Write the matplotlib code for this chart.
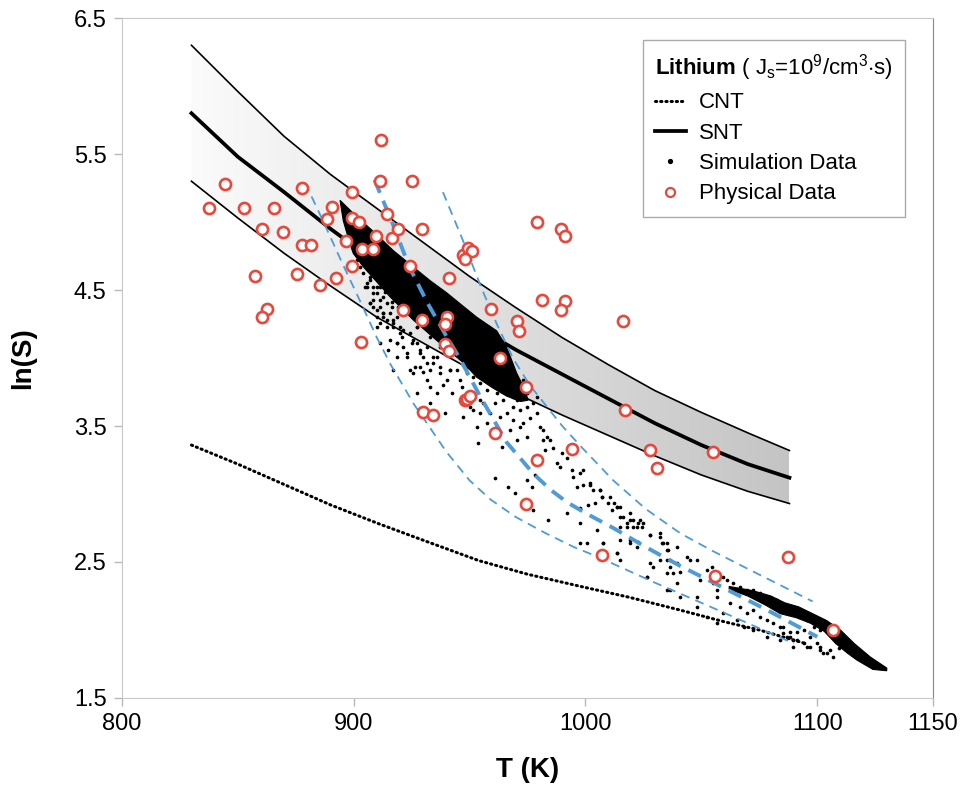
import numpy as np
import matplotlib
matplotlib.use("Agg")
from matplotlib import pyplot as plt
from matplotlib.lines import Line2D

plt.rcParams['font.family'] = ['Liberation Sans', 'DejaVu Sans']
plt.rcParams['mathtext.fontset'] = 'custom'
plt.rcParams['mathtext.rm'] = 'Liberation Sans'
plt.rcParams['mathtext.bf'] = 'Liberation Sans:bold'
plt.rcParams['mathtext.it'] = 'Liberation Sans:italic'

# SNT band (upper / centre / lower)
band_T = [830, 850, 870, 890, 910, 930, 950, 970, 990, 1010, 1030, 1050, 1070, 1088]
band_upper = [6.30, 5.96, 5.63, 5.35, 5.10, 4.85, 4.60, 4.37, 4.15, 3.95, 3.76, 3.60, 3.45, 3.32]
snt = [5.80, 5.48, 5.22, 4.95, 4.70, 4.47, 4.26, 4.06, 3.88, 3.70, 3.52, 3.36, 3.22, 3.12]
band_lower = [5.30, 5.03, 4.77, 4.53, 4.30, 4.11, 3.92, 3.74, 3.58, 3.43, 3.28, 3.14, 3.02, 2.93]

# CNT
cnt_T = [830, 850, 870, 890, 911, 930, 954, 975, 998, 1019, 1040, 1060, 1075, 1095]
cnt = [3.36, 3.22, 3.07, 2.92, 2.78, 2.66, 2.51, 2.41, 2.32, 2.24, 2.15, 2.06, 2.00, 1.90]

# blue dashed fits
fit_T = [909, 917, 924, 932, 940, 946, 954.5, 966, 977.5, 985, 992, 1000, 1012, 1026, 1041, 1055, 1078, 1100]
fit = [5.31, 4.98, 4.67, 4.40, 4.16, 3.99, 3.72, 3.38, 3.15, 3.03, 2.94, 2.86, 2.75, 2.61, 2.47, 2.35, 2.15, 1.95]
hi_T = [938.5, 947, 955, 962, 969, 976, 983, 990, 998, 1012, 1026, 1041, 1055, 1070, 1098]
hi = [5.22, 4.87, 4.52, 4.24, 3.99, 3.80, 3.65, 3.50, 3.35, 3.10, 2.89, 2.71, 2.58, 2.45, 2.21]
lo_T = [879, 887, 895, 903, 910, 916, 926, 940, 950, 959, 970, 983, 995, 1005, 1018, 1031, 1050, 1070, 1090]
lo = [5.29, 5.00, 4.70, 4.41, 4.15, 3.95, 3.66, 3.31, 3.10, 2.96, 2.83, 2.71, 2.61, 2.54, 2.44, 2.34, 2.20, 2.05, 1.90]

# simulation data: dense cores (outlines) + scattered points
core_T = [894.1, 901.3, 908.5, 917.1, 925.7, 932.9, 940.1, 947.3, 953.1, 961.7, 966.0, 970.3, 973.2, 975.3,
          972.0, 966.0, 960.0, 953.0, 947.0, 940.0, 935.8, 925.7, 915.7, 904.2, 899.8, 898.4, 895.5]
core_lnS = [5.16, 5.04, 4.93, 4.79, 4.67, 4.57, 4.48, 4.38, 4.30, 4.20, 4.08, 3.89, 3.79, 3.69,
            3.68, 3.72, 3.78, 3.86, 3.97, 4.07, 4.13, 4.28, 4.45, 4.67, 4.77, 4.84, 5.01]
tail_T = [1062, 1072, 1080, 1086, 1092, 1098, 1104, 1110, 1116, 1123, 1130,
          1130, 1124, 1117, 1113, 1108, 1103, 1097, 1091, 1084, 1078, 1070, 1062]
tail_lnS = [2.32, 2.29, 2.25, 2.20, 2.17, 2.12, 2.07, 2.00, 1.90, 1.80, 1.72,
            1.70, 1.71, 1.78, 1.83, 1.90, 1.99, 2.05, 2.09, 2.12, 2.18, 2.25, 2.30]

sim_T = [925.7, 930.1, 937.2, 941.6, 927.2, 932.9, 938.7, 942.3, 945.9, 946.6, 939.4, 932.9, 953.1, 953.8,
         957.4, 961.0, 958.8, 960.3, 963.9, 961.0, 966.7, 969.6, 974.6, 976.8, 978.2, 977.5, 984.0, 968.9,
         971.8, 973.2, 970.3, 974.6, 976.1, 979.0, 980.4, 981.8, 983.3, 984.7, 982.6, 986.2, 981.8, 989.8,
         991.9, 987.6, 989.0, 994.1, 994.8, 996.2, 997.7, 999.1, 1002.0, 1003.4, 1006.3, 1007.0, 997.7,
         991.9, 1001.3, 1012.1, 1013.5, 1014.9, 1010.6, 1016.4, 1017.8, 1019.3, 1020.7, 1022.1, 1023.6,
         1025.0, 1014.9, 1019.3, 1022.1, 1027.9, 1032.2, 1033.6, 1035.1, 1036.5, 1039.4, 1013.5, 997.7,
         1007.7, 1035.1, 1029.3, 1026.4, 1039.4, 1036.5, 997.7, 1004.9, 1014.9,
         951.6, 954.5, 957.4, 961.7, 964.6, 955.9, 951.6, 948.8, 958.8, 963.1, 967.5, 970.3, 971.8, 974.6,
         977.5, 979.0, 974.6, 968.9, 966.0, 963.1, 967.5, 961.7, 968.9, 973.2, 954.5, 950.2,
         999.1, 1002.0, 1006.3, 1007.0, 1004.1, 1009.9, 1011.3, 1013.5, 1014.9, 1017.8, 1019.3, 1020.7,
         1022.8, 1024.3, 1019.3, 1022.8, 1027.9, 1032.2, 1032.9, 1035.1, 1035.8, 1027.9, 1032.2, 1035.1,
         1036.5, 1037.9, 1040.8, 1043.7, 1045.1, 1048.0, 1049.5, 1052.3, 1054.5, 1056.7, 1055.2, 1056.7,
         1059.5, 1061.0, 1063.8, 1065.3, 1066.7, 1069.6, 1072.5, 1075.4, 1078.2, 1082.6, 1084.0, 1086.9,
         1089.7, 1092.6, 1095.5, 1098.4, 1101.3, 1062.4, 1066.7, 1069.6, 1072.5, 1075.4, 1078.2, 1081.1,
         1084.0, 1085.4, 1088.3, 1091.2, 1094.1, 1097.0, 1101.3, 1104.1, 1040.8, 1048.0, 1056.7, 1059.5,
         1065.3, 1068.2, 1072.5, 1078.2, 1084.0, 1089.7, 1095.5, 1026.4, 1035.1, 1039.4, 1013.5, 1014.9,
         1000.5, 1007.7, 1048.0, 1052.3, 1056.7,
         1085.4, 1088.3, 1091.2, 1086.9, 1089.7, 1094.1, 1096.9, 1099.8, 1101.3, 1102.7, 1105.6, 1107.0, 1109.2,
         901.3, 902.7, 904.2, 906.3, 905.6, 907.0, 908.5, 911.4, 909.9, 912.8, 914.2, 911.4, 915.7, 917.1,
         918.5, 920.0, 908.5, 912.8, 917.8, 916.4, 905.6, 904.2,
         905.6, 908.5, 911.4, 907.0, 909.9, 912.8, 914.2, 917.1, 911.4, 915.7, 918.5, 921.4, 924.3, 925.7,
         928.6, 931.5, 934.4, 922.9, 920.0, 927.2,
         917.1, 924.3, 918.5, 922.9, 927.2, 930.0, 932.9, 935.8, 911.3, 908.5, 909.9, 914.2, 921.4, 927.2,
         932.9, 937.2,
         907.0, 909.9, 913.5, 916.4, 919.3, 923.6, 926.5, 930.0, 932.9, 935.8, 939.4, 943.0, 945.9, 948.8,
         951.6, 954.5, 912.8, 917.1, 920.7, 925.0, 928.6, 931.5, 937.2, 941.6, 918.5, 914.9, 926.5, 909.9,
         907.0, 904.9,
         928.6, 934.4, 940.1, 944.4, 935.8, 931.5, 948.8, 951.6, 947.3, 954.5]
sim_lnS = [3.887, 3.899, 3.887, 3.911, 3.740, 3.789, 3.801, 3.740, 3.838, 3.789, 3.593, 3.666, 3.495, 3.372,
           3.519, 3.666, 3.593, 3.470, 3.348, 3.115, 3.054, 3.005, 3.103, 3.054, 3.139, 2.882, 2.809, 3.544,
           3.495, 3.519, 3.397, 3.421, 3.556, 3.593, 3.495, 3.470, 3.421, 3.397, 3.323, 3.336, 3.397, 3.299,
           3.262, 3.225, 3.201, 3.176, 3.127, 3.054, 3.152, 3.176, 3.066, 3.029, 3.029, 2.980, 2.894,
           2.858, 2.919, 2.931, 2.907, 2.907, 2.980, 2.833, 2.784, 2.858, 2.809, 2.760, 2.809,
           2.784, 2.662, 2.662, 2.612, 2.698, 2.686, 2.637, 2.588, 2.514, 2.612, 2.563, 2.637,
           2.637, 2.416, 2.465, 2.392, 2.490, 2.294, 2.784, 2.735, 2.760,
           3.862, 3.813, 3.764, 3.740, 3.691, 3.666, 3.715, 3.887, 3.887, 3.838, 3.764, 3.691, 3.617, 3.642,
           3.666, 3.715, 3.740, 3.642, 3.593, 3.568, 3.470, 3.421, 3.715, 3.838, 3.593, 3.642,
           3.066, 3.078, 3.029, 2.980, 2.931, 2.931, 2.882, 2.907, 2.833, 2.760, 2.809, 2.760,
           2.784, 2.760, 2.637, 2.650, 2.699, 2.711, 2.637, 2.637, 2.588, 2.490, 2.515, 2.515,
           2.466, 2.417, 2.429, 2.539, 2.515, 2.515, 2.368, 2.441, 2.466, 2.417, 2.343, 2.294,
           2.392, 2.368, 2.343, 2.294, 2.319, 2.294, 2.294, 2.270, 2.245, 2.221, 2.172, 2.147,
           2.123, 2.098, 2.074, 2.025, 2.000, 2.196, 2.172, 2.123, 2.147, 2.098, 2.074, 2.049,
           2.025, 1.976, 1.951, 1.927, 1.902, 1.878, 1.853, 1.829, 2.245, 2.245, 2.245, 2.123,
           2.074, 2.025, 2.000, 1.951, 1.927, 1.878, 1.878, 2.392, 2.294, 2.343, 2.564, 2.515,
           2.637, 2.637, 2.172, 2.098, 2.049,
           2.025, 1.988, 1.988, 1.951, 1.927, 2.000, 1.951, 1.902, 1.878, 1.829, 1.853, 1.804, 1.865,
           4.721, 4.672, 4.623, 4.647, 4.549, 4.574, 4.525, 4.525, 4.476, 4.451, 4.402, 4.378, 4.329, 4.280,
           4.304, 4.231, 4.427, 4.304, 4.427, 4.378, 4.721, 4.770,
           4.525, 4.476, 4.427, 4.402, 4.353, 4.329, 4.280, 4.231, 4.255, 4.132, 4.108, 4.083, 4.181, 4.132,
           4.034, 4.083, 4.010, 4.034, 4.181, 4.230,
           3.911, 3.911, 4.108, 4.010, 4.108, 4.010, 3.911, 4.010, 4.108, 4.377, 4.304, 4.230, 4.206, 4.230,
           4.157, 4.083,
           4.598, 4.524, 4.487, 4.414, 4.377, 4.328, 4.291, 4.267, 4.230, 4.181, 4.144, 4.108, 4.059, 4.010,
           3.973, 3.936, 4.328, 4.255, 4.157, 4.108, 4.059, 3.960, 3.936, 3.911, 4.010, 4.059, 3.936, 4.230,
           4.402, 4.524,
           3.936, 3.960, 3.838, 3.911, 3.740, 3.838, 3.715, 3.617, 3.568, 3.691]

# physical data
phys_T = [837.7, 844.4, 852.7, 865.6, 860.6, 869.3, 877.5, 877.5, 881.4, 890.5, 888.3, 899.1, 899.3, 902.4,
          896.5, 903.4, 908.2, 909.6, 916.4, 914.2, 911.4, 925.3, 919.3, 929.3, 924.3, 899.4, 892.4, 885.5,
          875.4, 857.5, 862.7, 860.4, 903.3, 921.1, 929.3, 911.8, 979.0, 989.3, 991.2, 947.0, 949.4, 951.2,
          948.0, 941.2, 981.1, 991.1, 989.3, 1016.0, 959.2, 970.3, 971.3, 940.4, 939.4, 939.4, 941.2, 963.1,
          974.3, 1017.0, 1028.0, 1031.0, 1055.2, 948.0, 949.0, 950.2, 930.1, 934.4, 961.0, 994.2, 979.1,
          974.3, 1007.2, 1055.9, 1087.2, 1107.0]
phys_lnS = [5.10, 5.28, 5.10, 5.10, 4.95, 4.93, 5.25, 4.83, 4.83, 5.11, 5.02, 5.22, 5.03, 5.00,
            4.86, 4.80, 4.80, 4.90, 4.88, 5.06, 5.30, 5.30, 4.95, 4.95, 4.68, 4.68, 4.59, 4.54,
            4.62, 4.60, 4.36, 4.30, 4.12, 4.35, 4.28, 5.60, 5.00, 4.95, 4.90, 4.76, 4.81, 4.79,
            4.73, 4.59, 4.43, 4.42, 4.35, 4.27, 4.36, 4.27, 4.20, 4.30, 4.25, 4.10, 4.05, 4.00,
            3.79, 3.62, 3.32, 3.19, 3.31, 3.69, 3.70, 3.72, 3.60, 3.58, 3.45, 3.33, 3.25,
            2.93, 2.55, 2.40, 2.54, 2.00]

blue = '#4e9bd8'
red = '#e8483b'

fig = plt.figure(figsize=(9.6, 7.86), dpi=100)
ax = fig.add_axes([0.127, 0.112, 0.845, 0.865])

# band with horizontal grey gradient
poly = ax.fill_between(band_T, band_lower, band_upper, facecolor='none', edgecolor='none')
grad = ax.imshow(np.linspace(0, 1, 256).reshape(1, -1), extent=[830, 1088, 2.9, 6.3],
                 cmap=matplotlib.colors.LinearSegmentedColormap.from_list('g', ['#fbfbfb', '#c4c4c4']),
                 aspect='auto', zorder=1)
grad.set_clip_path(poly.get_paths()[0], ax.transData)

ax.plot(band_T, band_upper, color='black', lw=1.2, zorder=2)
ax.plot(band_T, band_lower, color='black', lw=1.2, zorder=2)
ax.plot(band_T, snt, color='black', lw=2.7, zorder=2)
ax.plot(cnt_T, cnt, color='black', lw=2.2, ls=(0, (0.4, 1.3)), dash_capstyle='round', zorder=2)

ax.fill(core_T, core_lnS, color='black', lw=0.8, zorder=3)
ax.fill(tail_T, tail_lnS, color='black', lw=0.8, zorder=3)
ax.scatter(sim_T, sim_lnS, s=7, color='black', linewidths=0, zorder=3)

ax.plot(lo_T, lo, color=blue, lw=1.3, ls=(0, (5, 3.5)), zorder=4)
ax.plot(hi_T, hi, color=blue, lw=1.3, ls=(0, (5, 3.5)), zorder=4)
ax.plot(fit_T, fit, color=blue, lw=2.8, ls=(0, (3.6, 2.2)), zorder=4)

ax.plot(phys_T, phys_lnS, ls='none', marker='o', ms=8, mfc='white', mec=red, mew=1.9, zorder=5)

ax.set_xlim(800, 1150)
ax.set_ylim(1.5, 6.5)
ax.set_xticks([800, 900, 1000, 1100, 1150])
ax.set_yticks([1.5, 2.5, 3.5, 4.5, 5.5, 6.5])
ax.tick_params(direction='out', length=6, width=1, color='#b8b8b8', labelsize=17, pad=5)
for s in ['left', 'bottom', 'top']:
    ax.spines[s].set_color('#c8c8c8')
ax.spines['right'].set_color('#888888')
ax.set_xlabel('T (K)', fontsize=20, fontweight='bold', labelpad=16)
ax.set_ylabel('ln(S)', fontsize=20, fontweight='bold', labelpad=27)

handles = [
    Line2D([], [], color='black', lw=2.2, ls=(0, (0.4, 1.3)), dash_capstyle='round'),
    Line2D([], [], color='black', lw=2.7),
    Line2D([], [], ls='none', marker='o', ms=2.8, color='black'),
    Line2D([], [], ls='none', marker='o', ms=6.5, mfc='white', mec=red, mew=1.6),
]
leg = ax.legend(handles, ['CNT', 'SNT', 'Simulation Data', 'Physical Data'],
                title=r'$\mathbf{Lithium}$ ( J$_\mathrm{s}$=10$^\mathrm{9}$/cm$^\mathrm{3}$$\cdot$s)',
                loc='upper right', bbox_to_anchor=(0.965, 0.968), borderaxespad=0, fontsize=16,
                title_fontsize=16, fancybox=False, edgecolor='#aaaaaa', framealpha=1,
                handlelength=1.4, handletextpad=0.6, labelspacing=0.42, borderpad=0.55)
leg._legend_box.align = 'left'
leg.get_frame().set_linewidth(1.0)

fig.savefig('out.png', dpi=100)
